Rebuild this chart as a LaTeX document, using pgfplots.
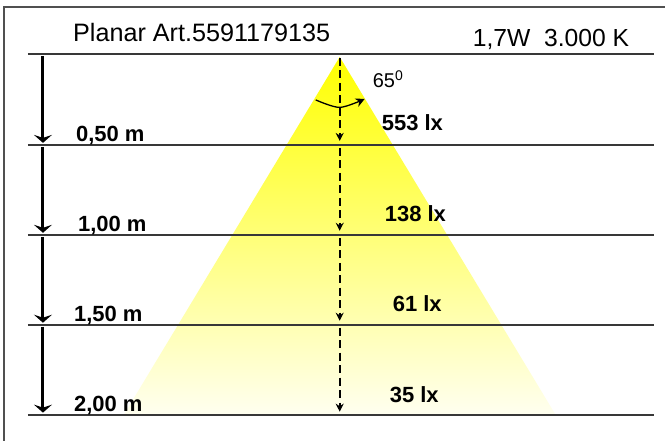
\documentclass[border=0pt]{standalone}
\usepackage{pgfplots}
\pgfplotsset{compat=1.18}
\usepackage{fontspec}
\setmainfont{Liberation Sans}
\usetikzlibrary{arrows.meta}

\definecolor{rule}{HTML}{383838}
\definecolor{frame}{HTML}{505050}
\definecolor{beam}{HTML}{FFFF00}

\tikzset{lbl/.style={anchor=base west, inner sep=0pt,
  font=\fontsize{22bp}{26bp}\selectfont\bfseries}}

\begin{document}
\begin{tikzpicture}
\begin{axis}[
  scale only axis, width=666bp, height=441bp,
  xmin=0, xmax=666, ymin=0, ymax=441,
  y dir=reverse, hide axis, clip=false,
  every axis plot/.append style={mark=none},
  distarrow/.style={black, line width=3bp,
    -{Stealth[width=18bp, length=8bp, inset=3bp]}},
  centre/.style={black, line width=1.8bp, dash pattern=on 8bp off 4.5bp,
    -{Stealth[width=8bp, length=8bp]}},
]
% keep the whole canvas in the bounding box
\addplot[draw=none] coordinates {(0,0) (666,441)};

% light cone
\addplot[draw=none, top color=beam, middle color=beam!78, bottom color=beam!6]
  coordinates {(340,57) (556,415) (124,415) (340,57)};

% frame
\addplot[frame, line width=1.2bp] coordinates {(4,441) (4,7) (666,7)};

% level lines
\addplot[rule, line width=2bp] coordinates {(28,54) (655,54)};
\addplot[rule, line width=2bp] coordinates {(28,145) (655,145)};
\addplot[rule, line width=2bp] coordinates {(28,235) (655,235)};
\addplot[rule, line width=2bp] coordinates {(28,325) (655,325)};
\addplot[rule, line width=2bp] coordinates {(28,415) (655,415)};

% distance arrows on the left
\addplot[distarrow] coordinates {(43,56) (43,143)};
\addplot[distarrow] coordinates {(43,147) (43,233)};
\addplot[distarrow] coordinates {(43,237) (43,323)};
\addplot[distarrow] coordinates {(43,327) (43,413)};

% dashed centre line
\addplot[centre] coordinates {(340,58) (340,141)};
\addplot[centre] coordinates {(340,148) (340,231)};
\addplot[centre] coordinates {(340,238) (340,321)};
\addplot[centre] coordinates {(340,328) (340,412)};

% beam angle arc
\addplot[black, line width=1.3bp, smooth, -{Stealth[width=9bp, length=9bp]}]
  coordinates {(316,100) (340,107.5) (365,99)};

% texts
\node[anchor=base west, inner sep=0pt, font=\fontsize{25.2bp}{30bp}\selectfont]
  at (axis cs:73,42) {Planar Art.5591179135};
\node[anchor=base west, inner sep=0pt, font=\fontsize{24.7bp}{29bp}\selectfont]
  at (axis cs:473,47) {1,7W\ \ 3.000 K};
\node[anchor=base west, inner sep=0pt, font=\fontsize{20bp}{24bp}\selectfont]
  at (axis cs:373,88) {65\textsuperscript{0}};

\node[lbl] at (axis cs:76,142) {0,50 m};
\node[lbl] at (axis cs:78,232) {1,00 m};
\node[lbl] at (axis cs:74,322) {1,50 m};
\node[lbl] at (axis cs:74,412) {2,00 m};

\node[lbl] at (axis cs:382,131) {553 lx};
\node[lbl] at (axis cs:385,222) {138 lx};
\node[lbl] at (axis cs:393,312) {61 lx};
\node[lbl] at (axis cs:390,403) {35 lx};
\end{axis}
\end{tikzpicture}
\end{document}
